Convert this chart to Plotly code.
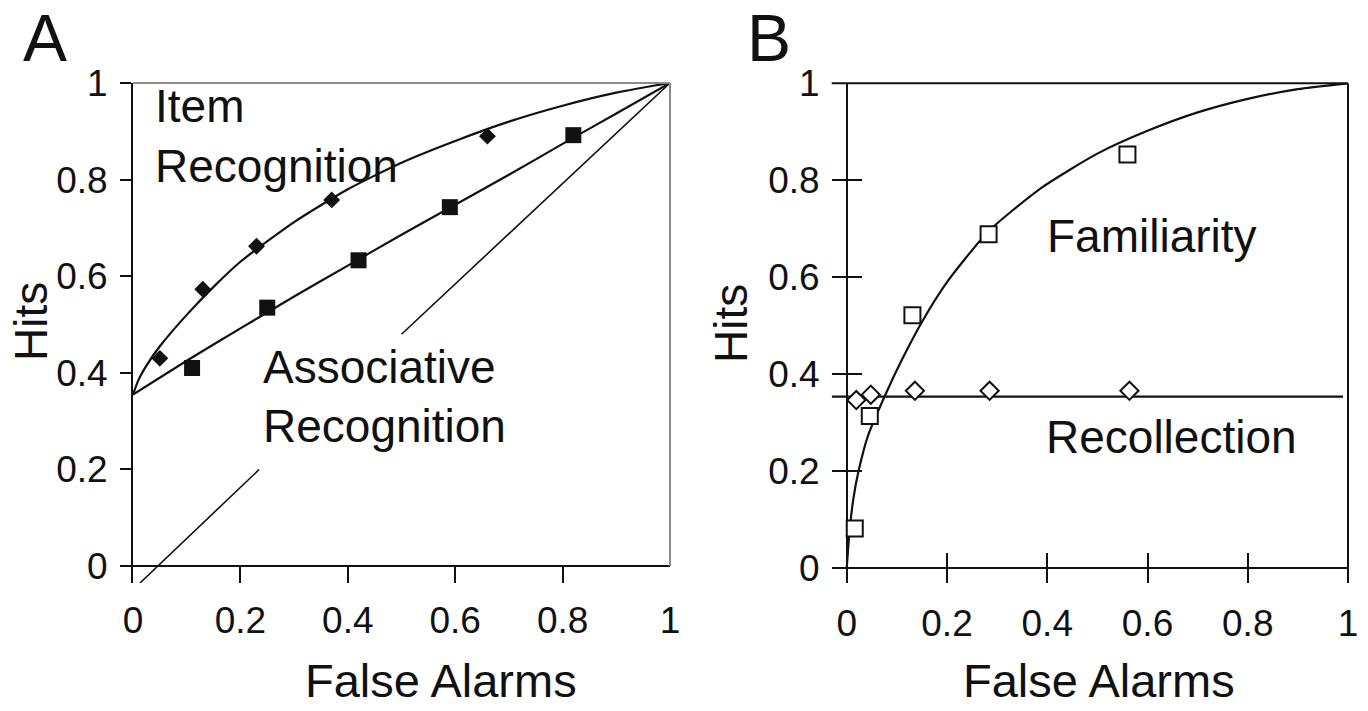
import plotly.graph_objects as go

# ---- Panel A: item vs associative recognition ROCs ----
item_fa = [0.05, 0.13, 0.23, 0.37, 0.66]
item_hits = [0.43, 0.573, 0.662, 0.758, 0.89]
assoc_fa = [0.11, 0.25, 0.42, 0.59, 0.82]
assoc_hits = [0.41, 0.535, 0.633, 0.743, 0.892]

item_fit_fa = [0, 0.01, 0.025, 0.05, 0.1, 0.15, 0.2, 0.3, 0.4, 0.5, 0.6, 0.7, 0.8, 0.9, 1]
item_fit_hits = [0.355, 0.385, 0.415, 0.455, 0.52, 0.578, 0.63, 0.712, 0.78, 0.835, 0.88, 0.92, 0.953, 0.98, 1]
assoc_fit_fa = [0, 0.1, 0.2, 0.3, 0.4, 0.5, 0.6, 0.7, 0.8, 0.9, 1]
assoc_fit_hits = [0.355, 0.425, 0.492, 0.558, 0.622, 0.686, 0.748, 0.81, 0.874, 0.937, 1]

# chance diagonal, broken around the "Associative Recognition" label
chance_fa = [0.013, 0.235, None, 0.5, 1.0]
chance_hits = [-0.035, 0.2, None, 0.48, 1.0]

# ---- Panel B: familiarity / recollection components ----
fam_fa = [0.016, 0.046, 0.131, 0.283, 0.56]
fam_hits = [0.082, 0.314, 0.522, 0.689, 0.853]
rec_fa = [0.019, 0.048, 0.136, 0.285, 0.564]
rec_hits = [0.347, 0.358, 0.366, 0.366, 0.366]

fam_fit_fa = [0, 0.005, 0.013, 0.023, 0.043, 0.078, 0.11, 0.15, 0.2, 0.283, 0.389, 0.5, 0.6, 0.7, 0.8, 0.9, 1]
fam_fit_hits = [0, 0.07, 0.142, 0.198, 0.275, 0.36, 0.43, 0.508, 0.59, 0.695, 0.785, 0.855, 0.902, 0.94, 0.968, 0.988, 1]
rec_fit_fa = [-0.03, 0.99]
rec_fit_hits = [0.354, 0.354]

tick_vals = [0, 0.2, 0.4, 0.6, 0.8, 1]
tick_text = ["0", "0.2", "0.4", "0.6", "0.8", "1"]

FONT = "Liberation Sans, Arial, sans-serif"
INK = "#111111"

# figure fills the window; the page's default body margin is removed below
W, H = 1368, 711


def px(x):
    return x / W


def py(y):
    return 1 - y / H


fig = go.Figure()

# panel A
fig.add_trace(go.Scatter(x=chance_fa, y=chance_hits, mode="lines",
                         line=dict(color=INK, width=1.6), xaxis="x", yaxis="y"))
fig.add_trace(go.Scatter(x=item_fit_fa, y=item_fit_hits, mode="lines",
                         line=dict(color=INK, width=2.2, shape="spline", smoothing=0.6),
                         xaxis="x", yaxis="y"))
fig.add_trace(go.Scatter(x=assoc_fit_fa, y=assoc_fit_hits, mode="lines",
                         line=dict(color=INK, width=2.2, shape="spline", smoothing=0.6),
                         xaxis="x", yaxis="y"))
fig.add_trace(go.Scatter(x=item_fa, y=item_hits, mode="markers",
                         marker=dict(symbol="diamond", size=13, color=INK),
                         xaxis="x", yaxis="y"))
fig.add_trace(go.Scatter(x=assoc_fa, y=assoc_hits, mode="markers",
                         marker=dict(symbol="square", size=16, color=INK),
                         xaxis="x", yaxis="y"))

# panel B
fig.add_trace(go.Scatter(x=rec_fit_fa, y=rec_fit_hits, mode="lines",
                         line=dict(color=INK, width=2.2),
                         xaxis="x2", yaxis="y2"))
fig.add_trace(go.Scatter(x=fam_fit_fa, y=fam_fit_hits, mode="lines",
                         line=dict(color=INK, width=2.2, shape="spline", smoothing=0.6),
                         xaxis="x2", yaxis="y2"))
fig.add_trace(go.Scatter(x=fam_fa, y=fam_hits, mode="markers",
                         marker=dict(symbol="square", size=16, color="white",
                                     line=dict(color=INK, width=2)),
                         xaxis="x2", yaxis="y2"))
fig.add_trace(go.Scatter(x=rec_fa, y=rec_hits, mode="markers",
                         marker=dict(symbol="diamond", size=14, color="white",
                                     line=dict(color=INK, width=2)),
                         xaxis="x2", yaxis="y2"))

tick_font = dict(family=FONT, size=37, color=INK)
common = dict(tickvals=tick_vals, ticktext=tick_text, tickfont=tick_font,
              showgrid=False, tickcolor=INK, tickwidth=2, fixedrange=True)

fig.update_layout(
    width=W, height=H,
    margin=dict(l=0, r=0, t=0, b=0, autoexpand=False),
    paper_bgcolor="white", plot_bgcolor="white",
    showlegend=False,
    font=dict(family=FONT, color=INK),
    # A: y range dips below 0 so the chance line can run past the axis
    xaxis=dict(domain=[px(133), px(670)], range=[0, 1], anchor="y",
               showline=False, zeroline=False, ticks="inside", ticklen=17,
               ticklabelstandoff=12, **common),
    yaxis=dict(domain=[py(583), py(83)], range=[-0.035, 1], anchor="x",
               showline=True, linecolor=INK, linewidth=2,
               zeroline=True, zerolinecolor=INK, zerolinewidth=2,
               ticks="outside", ticklen=11, ticklabelstandoff=5, **common),
    # B: crossing ticks made from inside ticks running across the zero lines
    xaxis2=dict(domain=[px(831.7), px(1348)], range=[-0.03, 1], anchor="y2",
                showline=False, zeroline=True, zerolinecolor=INK, zerolinewidth=2,
                ticks="inside", ticklen=30, ticklabelstandoff=15, **common),
    yaxis2=dict(domain=[py(582.9), py(83.3)], range=[-0.03, 1], anchor="x2",
                showline=False, zeroline=True, zerolinecolor=INK, zerolinewidth=2,
                ticks="inside", ticklen=30, ticklabelstandoff=11, **common),
)

# frame lines: grey on A, black on B
fig.add_shape(type="line", xref="x domain", yref="y domain", x0=0, x1=1, y0=1, y1=1,
              line=dict(color="#8c8c8c", width=2))
fig.add_shape(type="line", xref="x domain", yref="y", x0=1, x1=1, y0=0, y1=1,
              line=dict(color="#8c8c8c", width=2))
fig.add_shape(type="line", xref="x2 domain", yref="y2 domain", x0=0, x1=1, y0=1, y1=1,
              line=dict(color=INK, width=2))
fig.add_shape(type="line", xref="x2 domain", yref="y2 domain", x0=1, x1=1, y0=0, y1=1,
              line=dict(color=INK, width=2))


def note(text, x, y, xref, yref, size=46, anchor="left", angle=0):
    fig.add_annotation(text=text, x=x, y=y, xref=xref, yref=yref, showarrow=False,
                       xanchor=anchor, yanchor="middle", textangle=angle,
                       font=dict(family=FONT, size=size, color=INK))


# curve labels
note("Item", 0.037, 0.953, "x", "y")
note("Recognition", 0.037, 0.829, "x", "y")
note("Associative", 0.238, 0.413, "x", "y")
note("Recognition", 0.238, 0.289, "x", "y")
note("Familiarity", 0.395, 0.685, "x2", "y2")
note("Recollection", 0.393, 0.27, "x2", "y2")

# axis titles
note("False Alarms", px(441), py(680), "paper", "paper", size=47, anchor="center")
note("False Alarms", px(1099), py(680), "paper", "paper", size=47, anchor="center")
note("Hits", px(31), py(322), "paper", "paper", size=46, anchor="center", angle=-90)
note("Hits", px(731), py(324), "paper", "paper", size=46, anchor="center", angle=-90)

# panel letters
note("A", px(21), py(38), "paper", "paper", size=66)
note("B", px(745), py(38), "paper", "paper", size=66)

fig.write_html("out.html", config={"displayModeBar": False},
               post_script="document.body.style.margin = '0';")
